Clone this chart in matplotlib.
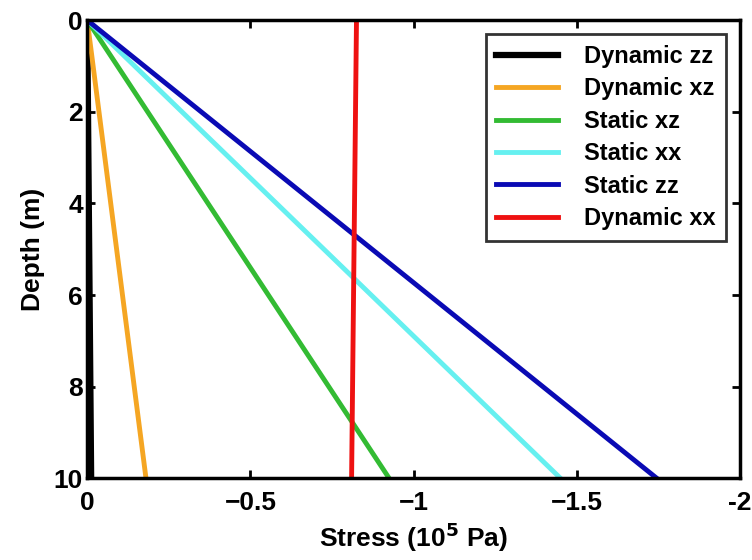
import matplotlib.pyplot as plt

# depth endpoints (m) and stress at those depths (10^5 Pa)
depth = [0, 10]
dyn_zz = [0, -0.012]
dyn_xz = [0, -0.18]
sta_xz = [0, -0.925]
sta_xx = [0, -1.45]
sta_zz = [0, -1.745]
dyn_xx = [-0.825, -0.81]

xticks = [0, -0.5, -1, -1.5, -2]
xticklabels = ['0', '\u22120.5', '\u22121', '\u22121.5', '-2']
yticks = [0, 2, 4, 6, 8, 10]

plt.rcParams['font.family'] = ['Liberation Sans', 'DejaVu Sans']
plt.rcParams['font.weight'] = 'bold'

fig = plt.figure(figsize=(7.52, 5.6), dpi=100)
ax = fig.add_axes([0.116, 0.146, 0.868, 0.818])

ax.plot(dyn_zz, depth, color='black', lw=4.5, label='Dynamic zz')
ax.plot(dyn_xz, depth, color='#f5a623', lw=3.5, label='Dynamic xz')
ax.plot(sta_xz, depth, color='#33bb33', lw=3.5, label='Static xz')
ax.plot(sta_xx, depth, color='#66f0f0', lw=3.5, label='Static xx')
ax.plot(sta_zz, depth, color='#0a0ab4', lw=3.5, label='Static zz')
ax.plot(dyn_xx, depth, color='#ee1111', lw=3.5, label='Dynamic xx')

ax.set_xlim(0, -2)
ax.set_ylim(10, 0)
ax.set_xticks(xticks)
ax.set_xticklabels(xticklabels)
ax.set_yticks(yticks)
ax.tick_params(direction='in', top=True, right=True, length=6, width=2,
               labelsize=19, pad=3)
ax.tick_params(axis='x', pad=9)
for sp in ax.spines.values():
    sp.set_linewidth(2.5)

ax.set_xlabel('Stress (10$^{\\mathbf{5}}$ Pa)', fontsize=19, fontweight='bold', labelpad=4)
ax.set_ylabel('Depth (m)', fontsize=19, fontweight='bold', labelpad=6)

leg = ax.legend(loc='upper right', fontsize=17, frameon=True, fancybox=False,
                edgecolor='black', handlelength=2.6, handletextpad=1.1,
                labelspacing=0.4, borderaxespad=0.6, borderpad=0.45)
leg.get_frame().set_linewidth(2)
for t in leg.get_texts():
    t.set_fontweight('bold')

fig.savefig('out.png', dpi=100)
